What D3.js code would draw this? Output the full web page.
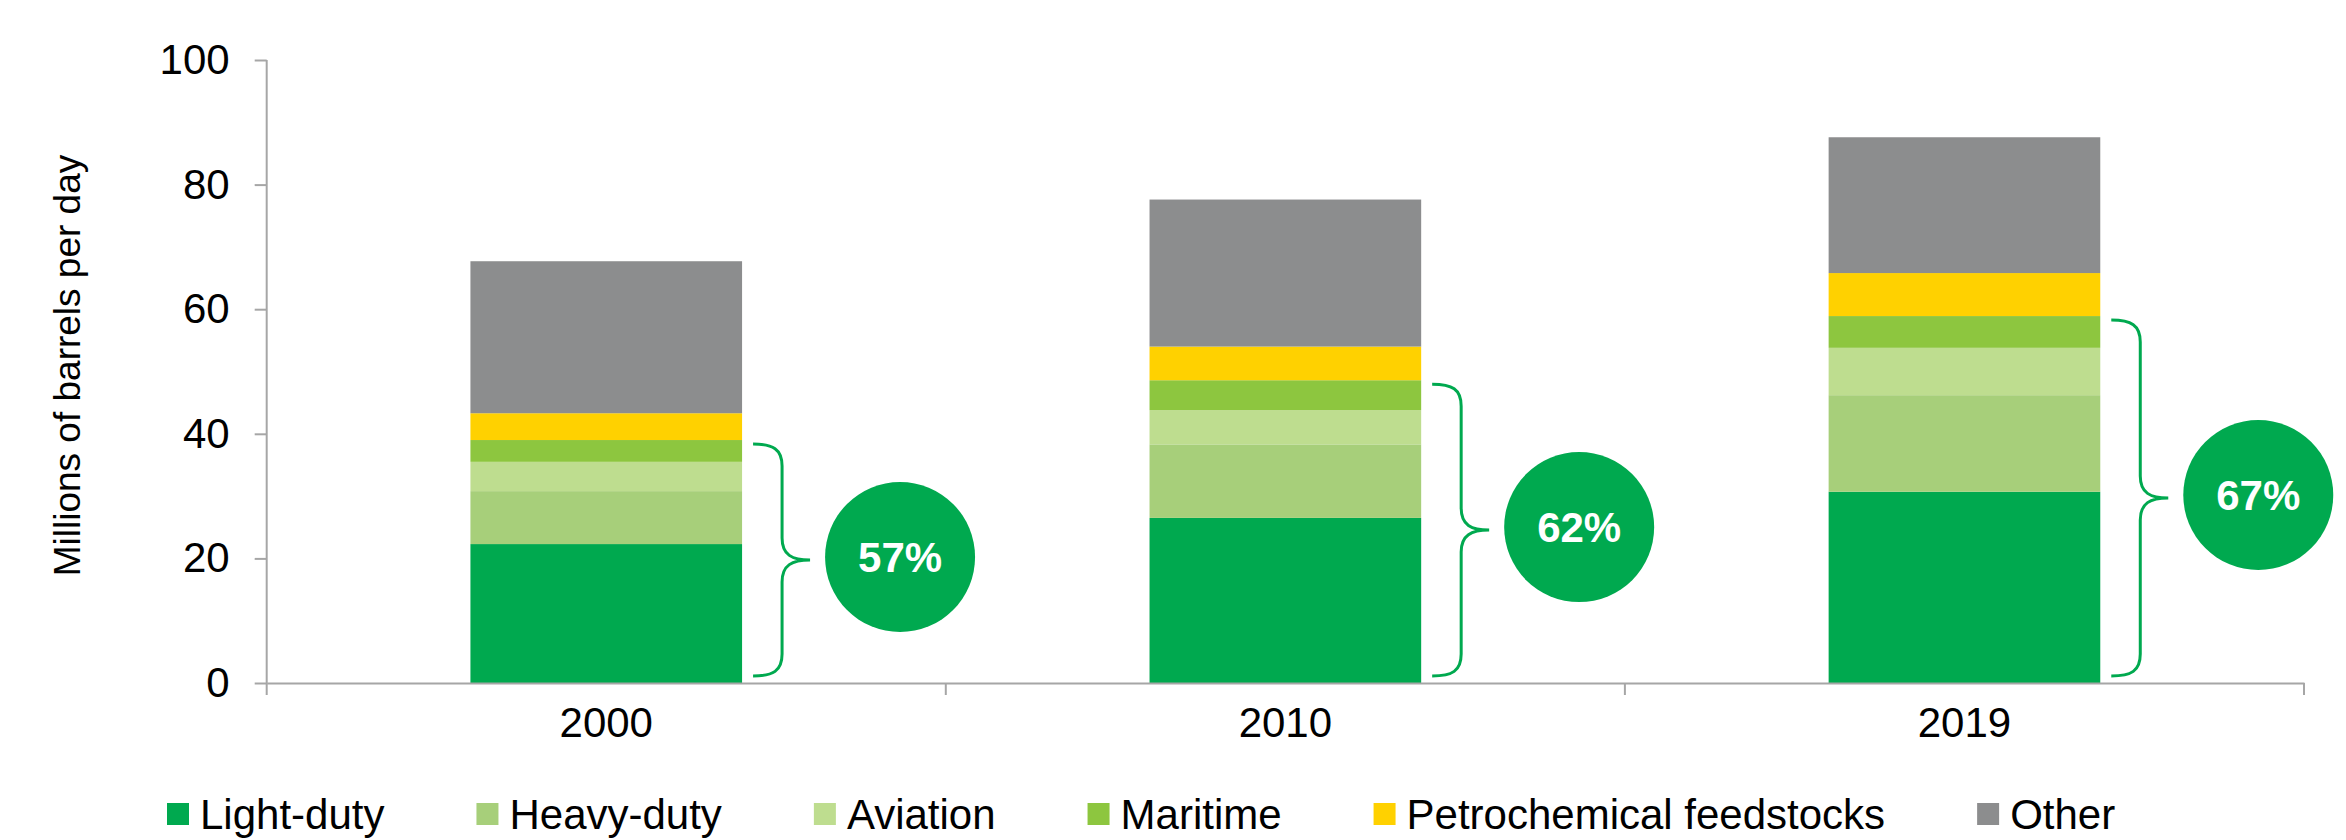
<!DOCTYPE html>
<html>
<head>
<meta charset="utf-8">
<script src="https://cdn.jsdelivr.net/npm/d3@7"></script>
<style>
  body { margin: 0; background: #fff; }
  svg { display: block; font-family: "Liberation Sans", Arial, sans-serif; }
</style>
</head>
<body>
<svg id="chart" width="2346" height="840"></svg>
<script>
// Data (millions of barrels per day)
const years = ['2000', '2010', '2019'];
const sectors = ['Light-duty', 'Heavy-duty', 'Aviation', 'Maritime', 'Petrochemical feedstocks', 'Other'];
const lightDuty = [22.3, 26.5, 30.7];
const heavyDuty = [8.5, 11.8, 15.5];
const aviation = [4.7, 5.5, 7.6];
const maritime = [3.5, 4.8, 5.1];
const petrochem = [4.3, 5.4, 6.9];
const other = [24.4, 23.6, 21.8];
const shareLabels = ['57%', '62%', '67%'];
const yTicks = [0, 20, 40, 60, 80, 100];

const colors = ['#00a94f', '#a7cf7a', '#bedd8f', '#8dc63f', '#ffd100', '#8c8d8e'];
const transportCount = 4; // first four sectors are covered by the brace

// build rows for the stack
const series = [lightDuty, heavyDuty, aviation, maritime, petrochem, other];
const rows = years.map((yr, i) => {
    const row = { year: yr };
    sectors.forEach((s, k) => { row[s] = series[k][i]; });
    return row;
});

const svg = d3.select('#chart');
const axisColor = '#a6a6a6';

const x = d3.scaleBand().domain(years).range([266.7, 2304]).paddingInner(0).paddingOuter(0);
const y = d3.scaleLinear().domain([0, 100]).range([683, 60]);
const barW = x.bandwidth() * 0.4;

const stack = d3.stack().keys(sectors)(rows);

// bars
svg.append('g').selectAll('g')
    .data(stack)
    .join('g')
    .attr('fill', (d, i) => colors[i])
    .selectAll('rect')
    .data(d => d)
    .join('rect')
    .attr('x', d => x(d.data.year) + (x.bandwidth() - barW) / 2)
    .attr('y', d => y(d[1]))
    .attr('width', barW)
    .attr('height', d => y(d[0]) - y(d[1]));

// y axis
const yAxis = svg.append('g')
    .attr('transform', `translate(${x.range()[0]},0)`)
    .call(d3.axisLeft(y).tickValues(yTicks).tickSize(12).tickSizeOuter(0).tickPadding(25));
yAxis.select('.domain').remove();
yAxis.selectAll('.tick line').attr('stroke', axisColor).attr('stroke-width', 2);
yAxis.selectAll('.tick text').attr('fill', '#000').style('font-size', '42px');
yAxis.append('line')
    .attr('x1', 0).attr('x2', 0)
    .attr('y1', y(100)).attr('y2', y(0) + 12)
    .attr('stroke', axisColor).attr('stroke-width', 2);

// x axis
const xAxis = svg.append('g')
    .attr('transform', `translate(0,${y(0)})`)
    .call(d3.axisBottom(x).tickSize(0).tickPadding(24));
xAxis.select('.domain').attr('stroke', axisColor).attr('stroke-width', 2);
xAxis.selectAll('.tick text').attr('fill', '#000').style('font-size', '42px');
xAxis.selectAll('line.sep')
    .data(years)
    .join('line')
    .attr('class', 'sep')
    .attr('x1', d => x(d) + x.bandwidth()).attr('x2', d => x(d) + x.bandwidth())
    .attr('y1', 0).attr('y2', 12)
    .attr('stroke', axisColor).attr('stroke-width', 2);

// y axis title
svg.append('text')
    .attr('transform', `translate(80,${(y(0) + y(100)) / 2 - 6}) rotate(-90)`)
    .attr('text-anchor', 'middle')
    .style('font-size', '37px')
    .attr('fill', '#000')
    .text('Millions of barrels per day');

// braces and share circles
const green = '#00a94f';
const annot = svg.append('g');
rows.forEach((row, i) => {
    const barRight = x(row.year) + (x.bandwidth() + barW) / 2;
    const covered = sectors.slice(0, transportCount).reduce((s, k) => s + row[k], 0);
    const top = y(covered) + 4;
    const bottom = y(0) - 7;
    const mid = (top + bottom) / 2;
    const x0 = barRight + 11, xl = barRight + 40, tip = barRight + 68;
    const r = 22;
    const path = `M${x0},${top} C${x0 + 20},${top} ${xl},${top + 5} ${xl},${top + r}` +
        ` L${xl},${mid - r} C${xl},${mid - 5} ${tip - 18},${mid} ${tip},${mid}` +
        ` C${tip - 18},${mid} ${xl},${mid + 5} ${xl},${mid + r}` +
        ` L${xl},${bottom - r} C${xl},${bottom - 5} ${x0 + 20},${bottom} ${x0},${bottom}`;
    annot.append('path')
        .attr('d', path)
        .attr('fill', 'none')
        .attr('stroke', green)
        .attr('stroke-width', 3);

    const cx = barRight + 158, cy = mid - 3;
    annot.append('circle')
        .attr('cx', cx).attr('cy', cy).attr('r', 75)
        .attr('fill', green);
    annot.append('text')
        .attr('x', cx).attr('y', cy + 15)
        .attr('text-anchor', 'middle')
        .attr('fill', '#fff')
        .style('font-size', '42px')
        .style('font-weight', 'bold')
        .text(shareLabels[i]);
});

// legend
const legend = svg.append('g').attr('transform', 'translate(167,814)');
let lx = 0;
sectors.forEach((s, i) => {
    const item = legend.append('g').attr('transform', `translate(${lx},0)`);
    item.append('rect')
        .attr('x', 0).attr('y', -11)
        .attr('width', 22).attr('height', 22)
        .attr('fill', colors[i]);
    const t = item.append('text')
        .attr('x', 33).attr('y', 15)
        .style('font-size', '42px')
        .attr('fill', '#000')
        .text(s);
    lx += 33 + t.node().getComputedTextLength() + 92;
});
</script>
</body>
</html>
